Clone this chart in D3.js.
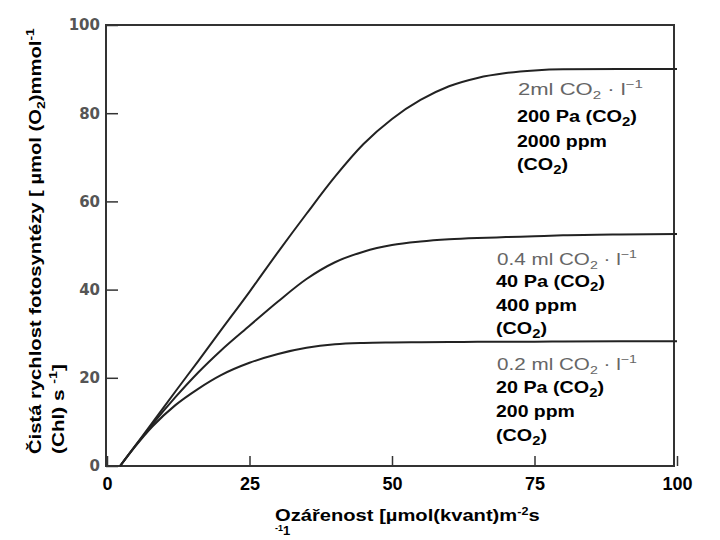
<!DOCTYPE html>
<html><head><meta charset="utf-8">
<script src="https://cdn.jsdelivr.net/npm/d3@7"></script>
<style>body{margin:0;background:#fff}</style>
</head><body><svg id="c" width="720" height="540"></svg>
<script>
const xVals  = [2.3, 5, 8, 12, 16, 20, 25, 30, 35, 40, 45, 50, 55, 60, 65, 70, 75, 80, 90, 100];
const high   = [0, 4.7, 9.9, 16.9, 23.8, 30.8, 39.5, 48.5, 57.2, 65.6, 73.0, 78.7, 83.0, 86.1, 88.0, 89.1, 89.7, 89.95, 90.0, 90.0];
const mid    = [0, 4.6, 9.5, 15.6, 21.2, 26.2, 31.8, 37.3, 42.4, 46.2, 48.6, 50.1, 50.9, 51.4, 51.7, 51.9, 52.1, 52.3, 52.5, 52.6];
const low    = [0, 4.5, 9.0, 13.8, 17.5, 20.6, 23.4, 25.4, 26.8, 27.6, 27.9, 28.0, 28.05, 28.1, 28.15, 28.2, 28.2, 28.25, 28.3, 28.3];
const xTicks = [0, 25, 50, 75, 100];
const yTicks = [0, 20, 40, 60, 80, 100];
const scanLabels = ["2ml", "0.4 ml", "0.2 ml"];
const paLabels   = ["200 Pa", "40 Pa", "20 Pa"];
const ppmLabels  = ["2000 ppm", "400 ppm", "200 ppm"];
const seriesVals = [high, mid, low];

const svg = d3.select("#c");
const x = d3.scaleLinear().domain([0, 100]).range([107, 677]);
const y = d3.scaleLinear().domain([0, 100]).range([466, 25]);
const BOLD = "Liberation Sans, Arial, sans-serif";

// text placed at (px,py), stretched along its direction to width w
function fitText(px, py, w, rot, build) {
  const g = svg.append("g").attr("transform", `translate(${px},${py})` + (rot ? " rotate(-90)" : ""));
  const t = g.append("text").attr("x", 0).attr("y", 0);
  build(t);
  const bw = t.node().getBBox().width;
  t.attr("transform", `scale(${w / bw},1)`);
  return t;
}

// frame
svg.append("rect").attr("x", x(0)-1).attr("y", y(100)).attr("width", x(100)-x(0)-2).attr("height", y(0)-y(100))
  .attr("fill", "none").attr("stroke", "#333").attr("stroke-width", 2);

// axes with inward ticks
const xAxis = svg.append("g").attr("transform", `translate(0,${y(0)})`)
  .call(d3.axisBottom(x).tickValues(xTicks).tickSize(-10).tickPadding(14).tickSizeOuter(0));
xAxis.select(".domain").remove();
xAxis.selectAll(".tick line").attr("stroke", "#333").attr("stroke-width", 1.5);
xAxis.selectAll(".tick text").attr("font-family", BOLD).attr("font-weight", "bold")
  .attr("font-size", 18).attr("fill", "#000").attr("dy", "0.71em").attr("y", 11);

const yAxis = svg.append("g").attr("transform", `translate(${x(0)-1},0)`)
  .call(d3.axisLeft(y).tickValues(yTicks).tickSize(-12).tickPadding(8).tickSizeOuter(0));
yAxis.select(".domain").remove();
yAxis.selectAll(".tick line").attr("stroke", "#333").attr("stroke-width", 1.5);
yAxis.selectAll(".tick text").attr("font-family", "DejaVu Sans, sans-serif")
  .attr("font-weight", "bold").attr("font-size", 15).attr("fill", "#555").attr("x", -6);

// curves
const line = d3.line().x((d, i) => x(xVals[i])).y(d => y(d)).curve(d3.curveMonotoneX);
seriesVals.forEach(s => {
  svg.append("path").attr("d", line(s)).attr("fill", "none").attr("stroke", "#222").attr("stroke-width", 2);
});

// annotations
const ann = [
  {x: 517, y: [95, 122, 147, 170], w: [125, 120, 90, 51]},
  {x: 496, y: [265, 287, 311, 334], w: [140, 109, 81, 51]},
  {x: 496, y: [370, 393, 417, 441], w: [140, 108, 79, 51]}
];
ann.forEach((a, i) => {
  fitText(a.x + 1, a.y[0], a.w[0], false, t => {
    t.attr("font-family", "Liberation Sans, Arial, sans-serif").attr("font-size", 16).attr("fill", "#666");
    t.append("tspan").text(scanLabels[i] + " CO");
    t.append("tspan").attr("font-size", 11).attr("dy", 4).text("2");
    t.append("tspan").attr("dy", -4).text(" · l");
    t.append("tspan").attr("font-size", 11).attr("dy", -7).text("−1");
  });
  const bold = t => t.attr("font-family", BOLD).attr("font-weight", "bold").attr("font-size", 16).attr("fill", "#000");
  fitText(a.x, a.y[1], a.w[1], false, t => {
    bold(t);
    t.append("tspan").text(paLabels[i] + " (CO");
    t.append("tspan").attr("font-size", 12).attr("dy", 4).text("2");
    t.append("tspan").attr("dy", -4).text(")");
  });
  fitText(a.x, a.y[2], a.w[2], false, t => { bold(t); t.text(ppmLabels[i]); });
  fitText(a.x, a.y[3], a.w[3], false, t => {
    bold(t);
    t.append("tspan").text("(CO");
    t.append("tspan").attr("font-size", 12).attr("dy", 4).text("2");
    t.append("tspan").attr("dy", -4).text(")");
  });
});

// y axis title
fitText(41, 454, 426, true, t => {
  t.attr("font-family", BOLD).attr("font-weight", "bold").attr("font-size", 16).attr("fill", "#000");
  t.append("tspan").text("Čistá rychlost fotosyntézy [ µmol (O");
  t.append("tspan").attr("font-size", 11).attr("dy", 4).text("2");
  t.append("tspan").attr("dy", -4).text(")mmol");
  t.append("tspan").attr("font-size", 11).attr("dy", -7).text("-1");
});
fitText(64, 454, 90, true, t => {
  t.attr("font-family", BOLD).attr("font-weight", "bold").attr("font-size", 16).attr("fill", "#000");
  t.append("tspan").text("(Chl) s ");
  t.append("tspan").attr("font-size", 11).attr("dy", -7).text("-1");
  t.append("tspan").attr("dy", 7).text("]");
});

// x axis title
fitText(275, 521, 265, false, t => {
  t.attr("font-family", BOLD).attr("font-weight", "bold").attr("font-size", 16).attr("fill", "#000");
  t.append("tspan").text("Ozářenost [µmol(kvant)m");
  t.append("tspan").attr("font-size", 10).attr("dy", -6).text("-2");
  t.append("tspan").attr("dy", 6).text("s");
});
const xt2 = svg.append("text").attr("x", 275).attr("y", 535)
  .attr("font-family", BOLD).attr("font-weight", "bold").attr("font-size", 13).attr("fill", "#000");
xt2.append("tspan").attr("font-size", 9).attr("dy", -4).text("-1");
xt2.append("tspan").attr("dy", 4).text("1");
</script></body></html>
